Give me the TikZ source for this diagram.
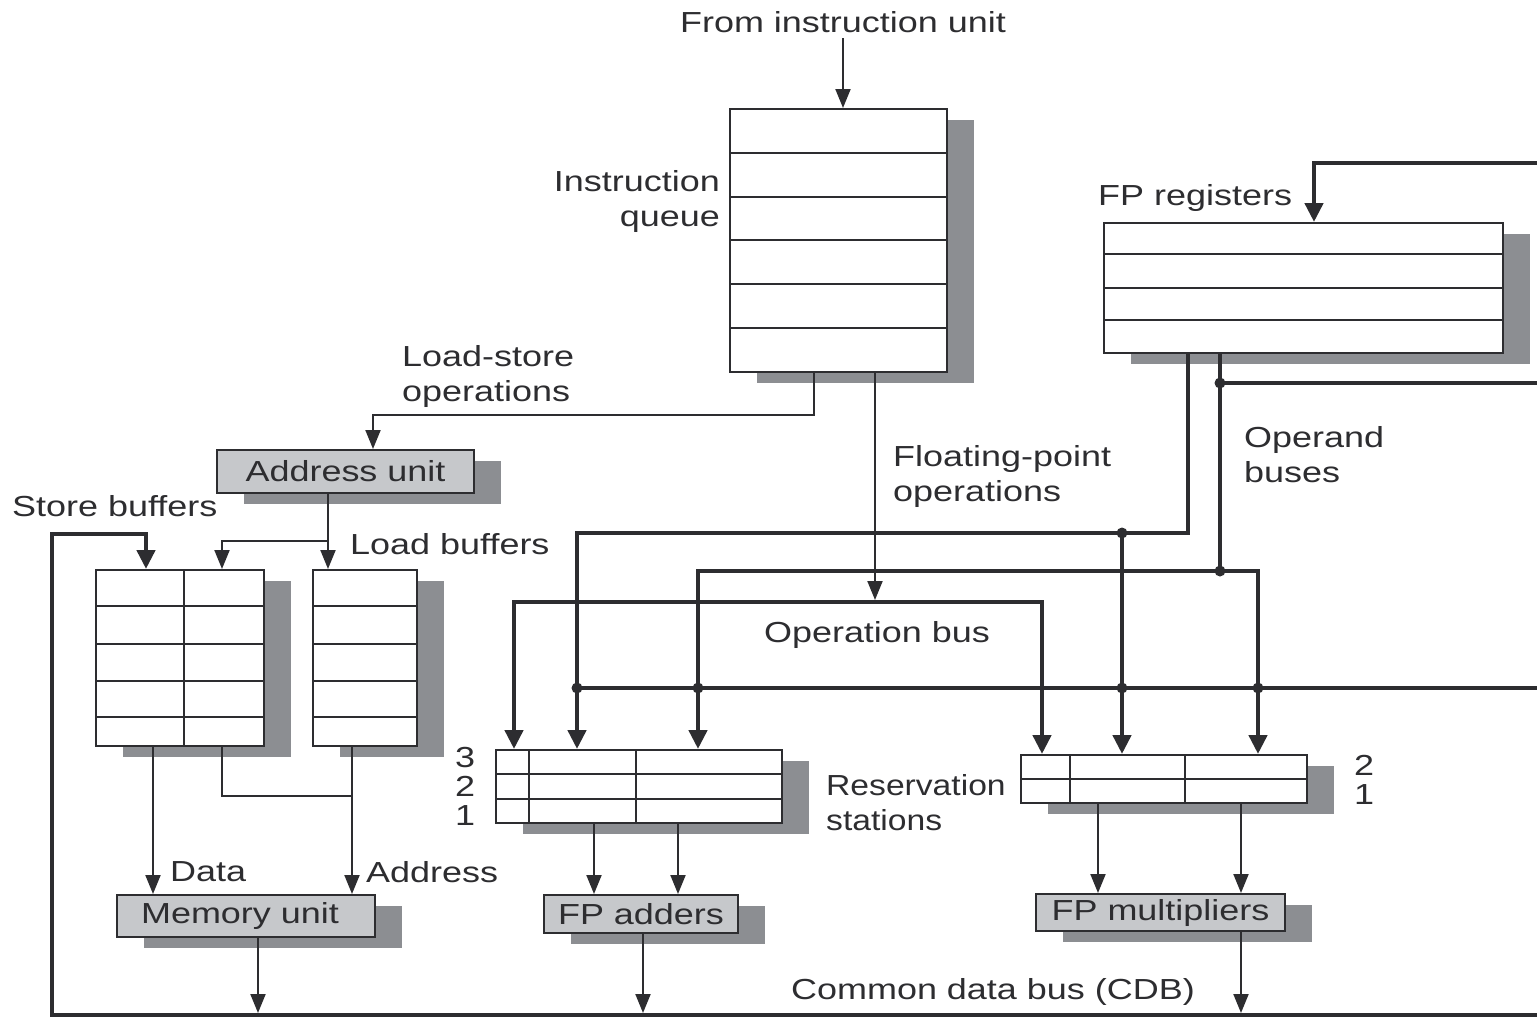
\documentclass[tikz,border=0pt]{standalone}
\usepackage{fontspec}
\setmainfont{Liberation Sans}[FakeStretch=1.24]
\usetikzlibrary{arrows.meta,shadows}
\definecolor{ln}{RGB}{45,45,48}
\definecolor{shd}{RGB}{140,142,146}
\definecolor{ufill}{RGB}{198,200,203}
\begin{document}
\begin{tikzpicture}[x=1pt,y=-1pt,
 lbl/.style={inner sep=0pt, text=ln, font=\fontsize{29}{35}\selectfont},
 tbl/.style={draw=ln, line width=2pt, fill=white, inner sep=0pt,
   general shadow={fill=shd, shadow xshift=27pt, shadow yshift=-11pt}},
 unit/.style={tbl, fill=ufill, text=ln, font=\fontsize{29}{35}\selectfont},
 thin/.style={draw=ln, line width=2pt},
 thick/.style={draw=ln, line width=4.5pt},
 tarr/.style={thin, -{Triangle[length=19pt,width=15pt]}},
 karr/.style={thick, -{Triangle[length=19pt,width=18pt]}},
 dot/.style={circle, fill=ln, inner sep=0pt, minimum size=11pt},
]
\useasboundingbox (0,0) rectangle (1537,1017);

% ---------- boxes ----------
\node[tbl, minimum width=217pt, minimum height=263pt] (iq) at (838.5,240.5) {};
\node[tbl, minimum width=399pt, minimum height=130pt] (fpr) at (1303.5,288) {};
\node[unit, minimum width=257pt, minimum height=43pt] (au) at (345.5,471.5) {Address unit};
\node[tbl, minimum width=168pt, minimum height=176pt] (sb) at (180,658) {};
\node[tbl, minimum width=104pt, minimum height=176pt] (lb) at (365,658) {};
\node[tbl, minimum width=286pt, minimum height=73pt] (ars) at (639,786.5) {};
\node[tbl, minimum width=286pt, minimum height=48pt] (mrs) at (1164,779) {};
\node[unit, minimum width=258pt, minimum height=42pt] (mu) at (246,916) {Memory unit\hspace*{12pt}};
\node[unit, minimum width=194pt, minimum height=38pt] (fa) at (641,914) {FP adders};
\node[unit, minimum width=249pt, minimum height=37pt] (fm) at (1160.5,912.5) {FP multipliers};

% inner grid lines
\foreach \yy in {153,197,240,284,328} \draw[thin] (iq.west |- 0,\yy) -- (iq.east |- 0,\yy);
\foreach \yy in {254,288,320} \draw[thin] (fpr.west |- 0,\yy) -- (fpr.east |- 0,\yy);
\foreach \yy in {606,644,681,717} {
  \draw[thin] (sb.west |- 0,\yy) -- (sb.east |- 0,\yy);
  \draw[thin] (lb.west |- 0,\yy) -- (lb.east |- 0,\yy);
}
\draw[thin] (184,0 |- sb.north) -- (184,0 |- sb.south);
\foreach \yy in {774,799} \draw[thin] (ars.west |- 0,\yy) -- (ars.east |- 0,\yy);
\foreach \xx in {529,636} \draw[thin] (\xx,0 |- ars.north) -- (\xx,0 |- ars.south);
\draw[thin] (mrs.west |- 0,779) -- (mrs.east |- 0,779);
\foreach \xx in {1070,1185} \draw[thin] (\xx,0 |- mrs.north) -- (\xx,0 |- mrs.south);

% ---------- labels ----------
\node[lbl, anchor=base] (tfiu) at (843,32) {From instruction unit};
\node[lbl, anchor=base east] (tiq1) at (720,191) {Instruction};
\node[lbl, anchor=base east] (tiq2) at (720,226) {queue};
\node[lbl, anchor=base west] (tls1) at (402,366) {Load-store};
\node[lbl, anchor=base west] (tls2) at (402,401) {operations};
\node[lbl, anchor=base west] (tfp1) at (893,466) {Floating-point};
\node[lbl, anchor=base west] (tfp2) at (893,501) {operations};
\node[lbl, anchor=base west] (tsb) at (12,516) {Store buffers};
\node[lbl, anchor=base west] (tlb) at (350,554) {Load buffers};
\node[lbl, anchor=base] (tob) at (877,642) {Operation bus};
\node[lbl, anchor=base west] (tod1) at (1244,447) {Operand};
\node[lbl, anchor=base west] (tod2) at (1244,482) {buses};
\node[lbl, anchor=base west] (tfpr) at (1098,205) {FP registers};
\node[lbl, anchor=base] (ta3) at (465,767) {3};
\node[lbl, anchor=base] (ta2) at (465,796) {2};
\node[lbl, anchor=base] (ta1) at (465,825) {1};
\node[lbl, anchor=base west] (trs1) at (826,795) {\addfontfeature{FakeStretch=1.16}Reservation};
\node[lbl, anchor=base west] (trs2) at (826,830) {\addfontfeature{FakeStretch=1.16}stations};
\node[lbl, anchor=base] (tm2) at (1364,775) {2};
\node[lbl, anchor=base] (tm1) at (1364,804) {1};
\node[lbl, anchor=base west] (tdata) at (170,881) {Data};
\node[lbl, anchor=base west] (taddr) at (366,882) {Address};
\node[lbl, anchor=base] (tcdb) at (993,999) {Common data bus (CDB)};

% ---------- coordinates ----------
\coordinate (fiu) at (843,38);
\coordinate (cdbR) at (1537,1015);
\coordinate (cdbL) at (52,1015);
\coordinate (fprR) at (1537,163);
\coordinate (opR) at (1537,383);
\coordinate (rsR) at (1537,688);

% ---------- thin connectors ----------
\draw[tarr] (fiu) -- (843,0 |- iq.north);
\draw[tarr] (814,0 |- iq.south) |- (373,415) -- (373,0 |- au.north);
\draw[tarr] (875,0 |- iq.south) -- (875,600);
\draw[tarr] (328,0 |- au.south) -- (328,0 |- lb.north);
\draw[tarr] (328,541) -| (222,0 |- sb.north);
\draw[tarr] (153,0 |- sb.south) -- (153,0 |- mu.north);
\draw[thin] (222,0 |- sb.south) |- (352,796);
\draw[tarr] (352,0 |- lb.south) -- (352,0 |- mu.north);
\draw[tarr] (594,0 |- ars.south) -- (594,0 |- fa.north);
\draw[tarr] (678,0 |- ars.south) -- (678,0 |- fa.north);
\draw[tarr] (1098,0 |- mrs.south) -- (1098,0 |- fm.north);
\draw[tarr] (1241,0 |- mrs.south) -- (1241,0 |- fm.north);
\draw[tarr] (258,0 |- mu.south) -- (258,1013);
\draw[tarr] (643,0 |- fa.south) -- (643,1013);
\draw[tarr] (1241,0 |- fm.south) -- (1241,1013);

% ---------- thick buses ----------
\draw[karr] (cdbR) -- (cdbL) |- (146,534) -- (146,0 |- sb.north);
\draw[karr] (fprR) -| (1314,0 |- fpr.north);
\draw[karr] (1188,0 |- fpr.south) |- (577,533) -- (577,0 |- ars.north);
\draw[karr] (1122,533) -- (1122,0 |- mrs.north);
\draw[karr] (1220,0 |- fpr.south) |- (698,571) -- (698,0 |- ars.north);
\draw[karr] (1220,571) -| (1258,0 |- mrs.north);
\draw[thick] (1220,383) -- (opR);
\draw[thick, {Triangle[length=19pt,width=18pt]}-{Triangle[length=19pt,width=18pt]}]
  (514,0 |- ars.north) |- (1042,602) -- (1042,0 |- mrs.north);
\draw[thick] (577,688) -- (rsR);

% ---------- junction dots ----------
\node[dot] (d1) at (1122,533) {};
\node[dot] (d2) at (1220,571) {};
\node[dot] (d3) at (1220,383) {};
\node[dot] (d4) at (577,688) {};
\node[dot] (d5) at (698,688) {};
\node[dot] (d6) at (1122,688) {};
\node[dot] (d7) at (1258,688) {};
\end{tikzpicture}
\end{document}
